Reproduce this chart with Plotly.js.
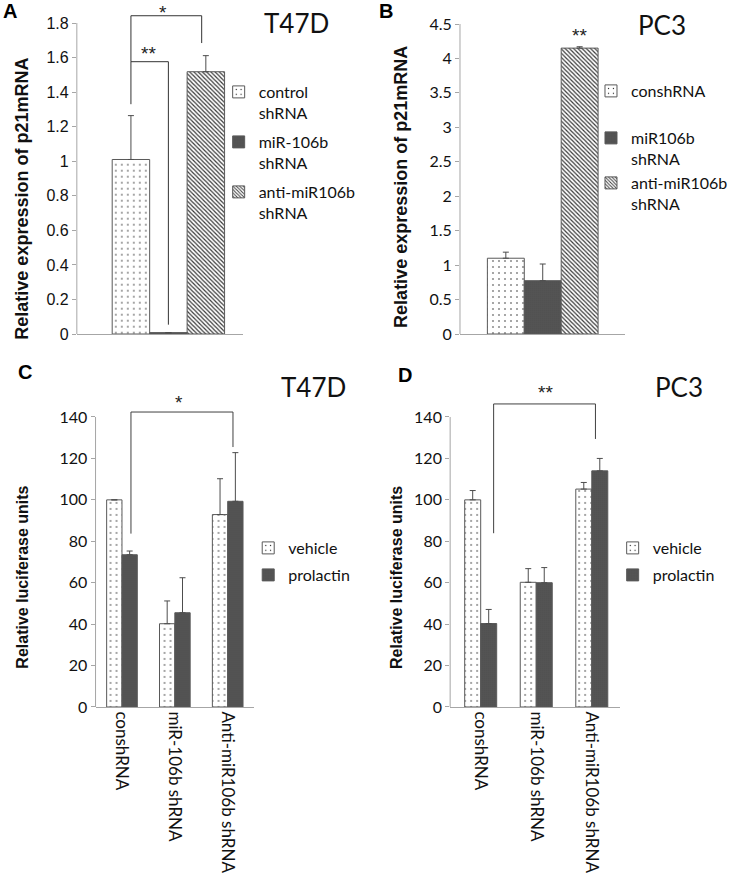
<!DOCTYPE html>
<html>
<head>
<meta charset="utf-8">
<script src="https://cdn.plot.ly/plotly-3.0.1.min.js"></script>
<style>
    body { margin: 0; background: #fff; }
    #chart { width: 733px; height: 877px; }
</style>
</head>
<body>
<div id="chart"></div>
<script>
// page size in px
const W = 733;
const H = 877;

// panel A: p21 mRNA in T47D
const seriesA = ["control<br>shRNA", "miR-106b<br>shRNA", "anti-miR106b<br>shRNA"];
const valuesA = [1.01, 0.008, 1.518];
const errorsA = [0.254, 0, 0.093];
const ticksA = [0, 0.2, 0.4, 0.6, 0.8, 1, 1.2, 1.4, 1.6, 1.8];

// panel B: p21 mRNA in PC3
const seriesB = ["conshRNA", "miR106b<br>shRNA", "anti-miR106b<br>shRNA"];
const valuesB = [1.10, 0.774, 4.15];
const errorsB = [0.088, 0.242, 0.02];
const ticksB = [0, 0.5, 1, 1.5, 2, 2.5, 3, 3.5, 4, 4.5];

// panels C and D: luciferase reporter
const categoriesCD = ["conshRNA", "miR-106b shRNA", "Anti-miR106b shRNA"];
const seriesCD = ["vehicle", "prolactin"];
const vehicleC = [100, 40.2, 92.9];
const vehicleErrC = [0, 11.0, 17.3];
const prolactinC = [73.5, 45.5, 99.3];
const prolactinErrC = [1.8, 16.9, 23.5];
const vehicleD = [100, 60.2, 105.2];
const vehicleErrD = [4.5, 6.6, 3.2];
const prolactinD = [40.3, 60.0, 114.0];
const prolactinErrD = [6.8, 7.3, 6.0];
const ticksCD = [0, 20, 40, 60, 80, 100, 120, 140];

// significance brackets as polylines (x = category position, y = data units)
const bracketA1x = [-0.225, -0.225, 0, 0];
const bracketA1y = [1.33, 1.576, 1.576, 0.054];
const bracketA2x = [-0.225, -0.225, 0.2, 0.2];
const bracketA2y = [1.576, 1.842, 1.842, 1.684];
const bracketCx = [0.17, 0.17, 2.1, 2.1];
const bracketCy = [83.7, 142.4, 142.4, 125.5];
const bracketDx = [0.233, 0.233, 2.066, 2.066];
const bracketDy = [83.9, 146.3, 146.3, 129.4];

// star labels: [x, y, text]
const starsA = [[-0.12, 1.626, "**"], [-0.03, 1.863, "*"]];
const starsB = [[0.222, 4.34, "**"]];
const starsC = [[1.08, 147.2, "*"]];
const starsD = [[1.16, 151.6, "**"]];

// fills used in the figure
const FILLS = {
    dots: { color: "white", pattern: { shape: ".", fgcolor: "#222", bgcolor: "white", size: 6, solidity: 0.05 } },
    checker: { color: "#6e6e6e", pattern: { shape: ".", fgcolor: "#262626", bgcolor: "#6e6e6e", size: 2, solidity: 0.4 } },
    hatch: { color: "white", pattern: { shape: "\\", fgcolor: "#3a3a3a", bgcolor: "white", size: 3, solidity: 0.4 } }
};

const ARIAL = "Liberation Sans, Arial, sans-serif";
const CALIBRI = "Lato, Carlito, sans-serif";
const LINE_GRAY = "#a6a6a6";

// px helpers (top-left origin -> paper)
function px(x) { return x / W; }
function py(y) { return 1 - y / H; }

// y domain from pixel of zero, pixel of a tick and the range max
function yDomain(px0, pxTick, tickVal, rangeMax) {
    const top = px0 - (px0 - pxTick) * rangeMax / tickVal;
    return [py(px0), py(top)];
}

let layout = {
    width: W,
    height: H,
    margin: { l: 0, r: 0, t: 0, b: 0 },
    paper_bgcolor: "white",
    plot_bgcolor: "rgba(0,0,0,0)",
    barmode: "group",
    showlegend: true,
    shapes: [],
    annotations: []
};

let data = [];
let legendCount = 0;

/*
Function: addLegend()
Adds one legend box (one entry each) with its text left edge and first line centre given in px.
*/
function addLegend(textLeftPx, lineCenterPx) {
    legendCount += 1;
    const key = legendCount === 1 ? "legend" : "legend" + legendCount;
    layout[key] = {
        x: px(textLeftPx - 40),
        y: py(lineCenterPx - 17),
        xanchor: "left",
        yanchor: "top",
        valign: "top",
        bgcolor: "rgba(0,0,0,0)",
        borderwidth: 0,
        font: { family: CALIBRI, size: 16, color: "#111" }
    };
    return key;
}

function barTrace(name, x, y, err, fill, axes, width, offset, legendKey) {
    return {
        type: "bar",
        name: name,
        x: x,
        y: y,
        xaxis: axes[0],
        yaxis: axes[1],
        width: width,
        offset: offset,
        marker: { color: fill.color, pattern: fill.pattern, line: { color: "#595959", width: 1 } },
        error_y: {
            type: "data", array: err, arrayminus: err.map(() => 0), symmetric: false,
            color: "#4d4d4d", thickness: 1, width: 3
        },
        legend: legendKey,
        hoverinfo: "none"
    };
}

/*
Function: setAxes()
x axis: categories with a baseline; y axis: ticks only, line drawn as a shape up to the last tick.
*/
function setAxes(n, xDom, yDom, xRange, yMax, ticks, tickFont, showCats) {
    const xk = n === 1 ? "xaxis" : "xaxis" + n;
    const yk = n === 1 ? "yaxis" : "yaxis" + n;
    const xid = n === 1 ? "x" : "x" + n;
    const yid = n === 1 ? "y" : "y" + n;
    layout[xk] = {
        domain: xDom,
        anchor: yid,
        type: "category",
        range: xRange,
        showline: true,
        linecolor: LINE_GRAY,
        linewidth: 1,
        showgrid: false,
        zeroline: false,
        ticks: "",
        showticklabels: showCats,
        tickangle: 90,
        tickfont: { family: CALIBRI, size: 17, color: "#111" },
        fixedrange: true
    };
    layout[yk] = {
        domain: yDom,
        anchor: xid,
        range: [0, yMax],
        tickvals: ticks,
        showline: false,
        showgrid: false,
        zeroline: false,
        ticks: "outside",
        ticklen: 4,
        tickcolor: LINE_GRAY,
        tickfont: tickFont,
        fixedrange: true
    };
    layout.shapes.push({
        type: "line", xref: xid + " domain", yref: yid,
        x0: 0, x1: 0, y0: 0, y1: ticks[ticks.length - 1],
        line: { color: LINE_GRAY, width: 1 }
    });
    return [xid, yid];
}

function addBracket(axes, xs, ys, color) {
    for (let i = 0; i < xs.length - 1; i++) {
        layout.shapes.push({
            type: "line", xref: axes[0], yref: axes[1],
            x0: xs[i], x1: xs[i + 1], y0: ys[i], y1: ys[i + 1],
            line: { color: color, width: 1 }
        });
    }
}

function addStars(axes, stars) {
    stars.forEach(s => {
        layout.annotations.push({
            xref: axes[0], yref: axes[1], x: s[0], y: s[1], text: s[2],
            showarrow: false, font: { family: ARIAL, size: 19, color: "#222" }
        });
    });
}

function addText(text, xPx, yPx, font, angle) {
    layout.annotations.push({
        xref: "paper", yref: "paper", x: px(xPx), y: py(yPx), text: text,
        xanchor: "center", yanchor: "middle", showarrow: false,
        textangle: angle || 0, font: font
    });
}

const calibriTicks = { family: CALIBRI, size: 16, color: "#111" };

// ---- panel A ----
const axA = setAxes(1, [px(78), px(247)], yDomain(334, 23, 1.8, 1.9), [-0.55, 0.45], 1.9, ticksA,
    { family: ARIAL, size: 16, color: "#111" }, false);
const fillsA = [FILLS.dots, FILLS.checker, FILLS.hatch];
const legendA = [[262, 92], [262, 142], [262, 192]];
seriesA.forEach((name, i) => {
    const key = addLegend(legendA[i][0], legendA[i][1]);
    data.push(barTrace(name, ["T47D"], [valuesA[i]], [errorsA[i]], fillsA[i], axA, 0.225, -0.3375 + i * 0.225, key));
});
addBracket(axA, bracketA1x, bracketA1y, "#333");
addBracket(axA, bracketA2x, bracketA2y, "#333");
addStars(axA, starsA);

// ---- panel B ----
const axB = setAxes(2, [px(467), px(635)], yDomain(334, 24, 4.5, 4.5), [-0.5, 0.5], 4.5, ticksB,
    calibriTicks, false);
const legendB = [[640, 91], [640, 138], [640, 183]];
seriesB.forEach((name, i) => {
    const key = addLegend(legendB[i][0], legendB[i][1]);
    data.push(barTrace(name, ["PC3"], [valuesB[i]], [errorsB[i]], fillsA[i], axB, 0.223, -0.3345 + i * 0.223, key));
});
addStars(axB, starsB);

// ---- panel C ----
const axC = setAxes(3, [px(97), px(258)], yDomain(707, 417, 140, 155), [-0.5, 2.5], 155, ticksCD,
    calibriTicks, true);
const keyC1 = addLegend(292, 548);
const keyC2 = addLegend(292, 575);
data.push(barTrace(seriesCD[0], categoriesCD, vehicleC, vehicleErrC, FILLS.dots, axC, 0.29, -0.29, keyC1));
data.push(barTrace(seriesCD[1], categoriesCD, prolactinC, prolactinErrC, FILLS.checker, axC, 0.29, 0, keyC2));
addBracket(axC, bracketCx, bracketCy, "#404040");
addStars(axC, starsC);

// ---- panel D ----
const axD = setAxes(4, [px(457), px(629)], yDomain(707, 417, 140, 155), [-0.55, 2.5], 155, ticksCD,
    calibriTicks, true);
const keyD1 = addLegend(662, 548);
const keyD2 = addLegend(662, 575);
data.push(barTrace(seriesCD[0], categoriesCD, vehicleD, vehicleErrD, FILLS.dots, axD, 0.288, -0.288, keyD1));
data.push(barTrace(seriesCD[1], categoriesCD, prolactinD, prolactinErrD, FILLS.checker, axD, 0.288, 0, keyD2));
addBracket(axD, bracketDx, bracketDy, "#404040");
addStars(axD, starsD);

// ---- panel letters, cell line names, y titles ----
const letterFont = { family: ARIAL, size: 20, color: "#000", weight: "bold" };
const nameFont = { family: CALIBRI, size: 26, color: "#111" };
const titleFontAB = { family: ARIAL, size: 18, color: "#111", weight: "bold" };
const titleFontCD = { family: ARIAL, size: 16, color: "#111", weight: "bold" };
addText("A", 10, 11, letterFont);
addText("B", 392, 11, letterFont);
addText("C", 25, 372, letterFont);
addText("D", 411, 375, letterFont);
addText("T47D", 301, 23, nameFont);
addText("PC3", 672, 25, nameFont);
addText("T47D", 318, 387, nameFont);
addText("PC3", 689, 387, nameFont);
addText("Relative expression of p21mRNA", 22, 199, titleFontAB, -90);
addText("Relative expression of p21mRNA", 407, 187, titleFontAB, -90);
addText("Relative luciferase units", 22, 577, titleFontCD, -90);
addText("Relative luciferase units", 402, 577, titleFontCD, -90);

Plotly.newPlot("chart", data, layout, { displayModeBar: false, staticPlot: true });
</script>
</body>
</html>
